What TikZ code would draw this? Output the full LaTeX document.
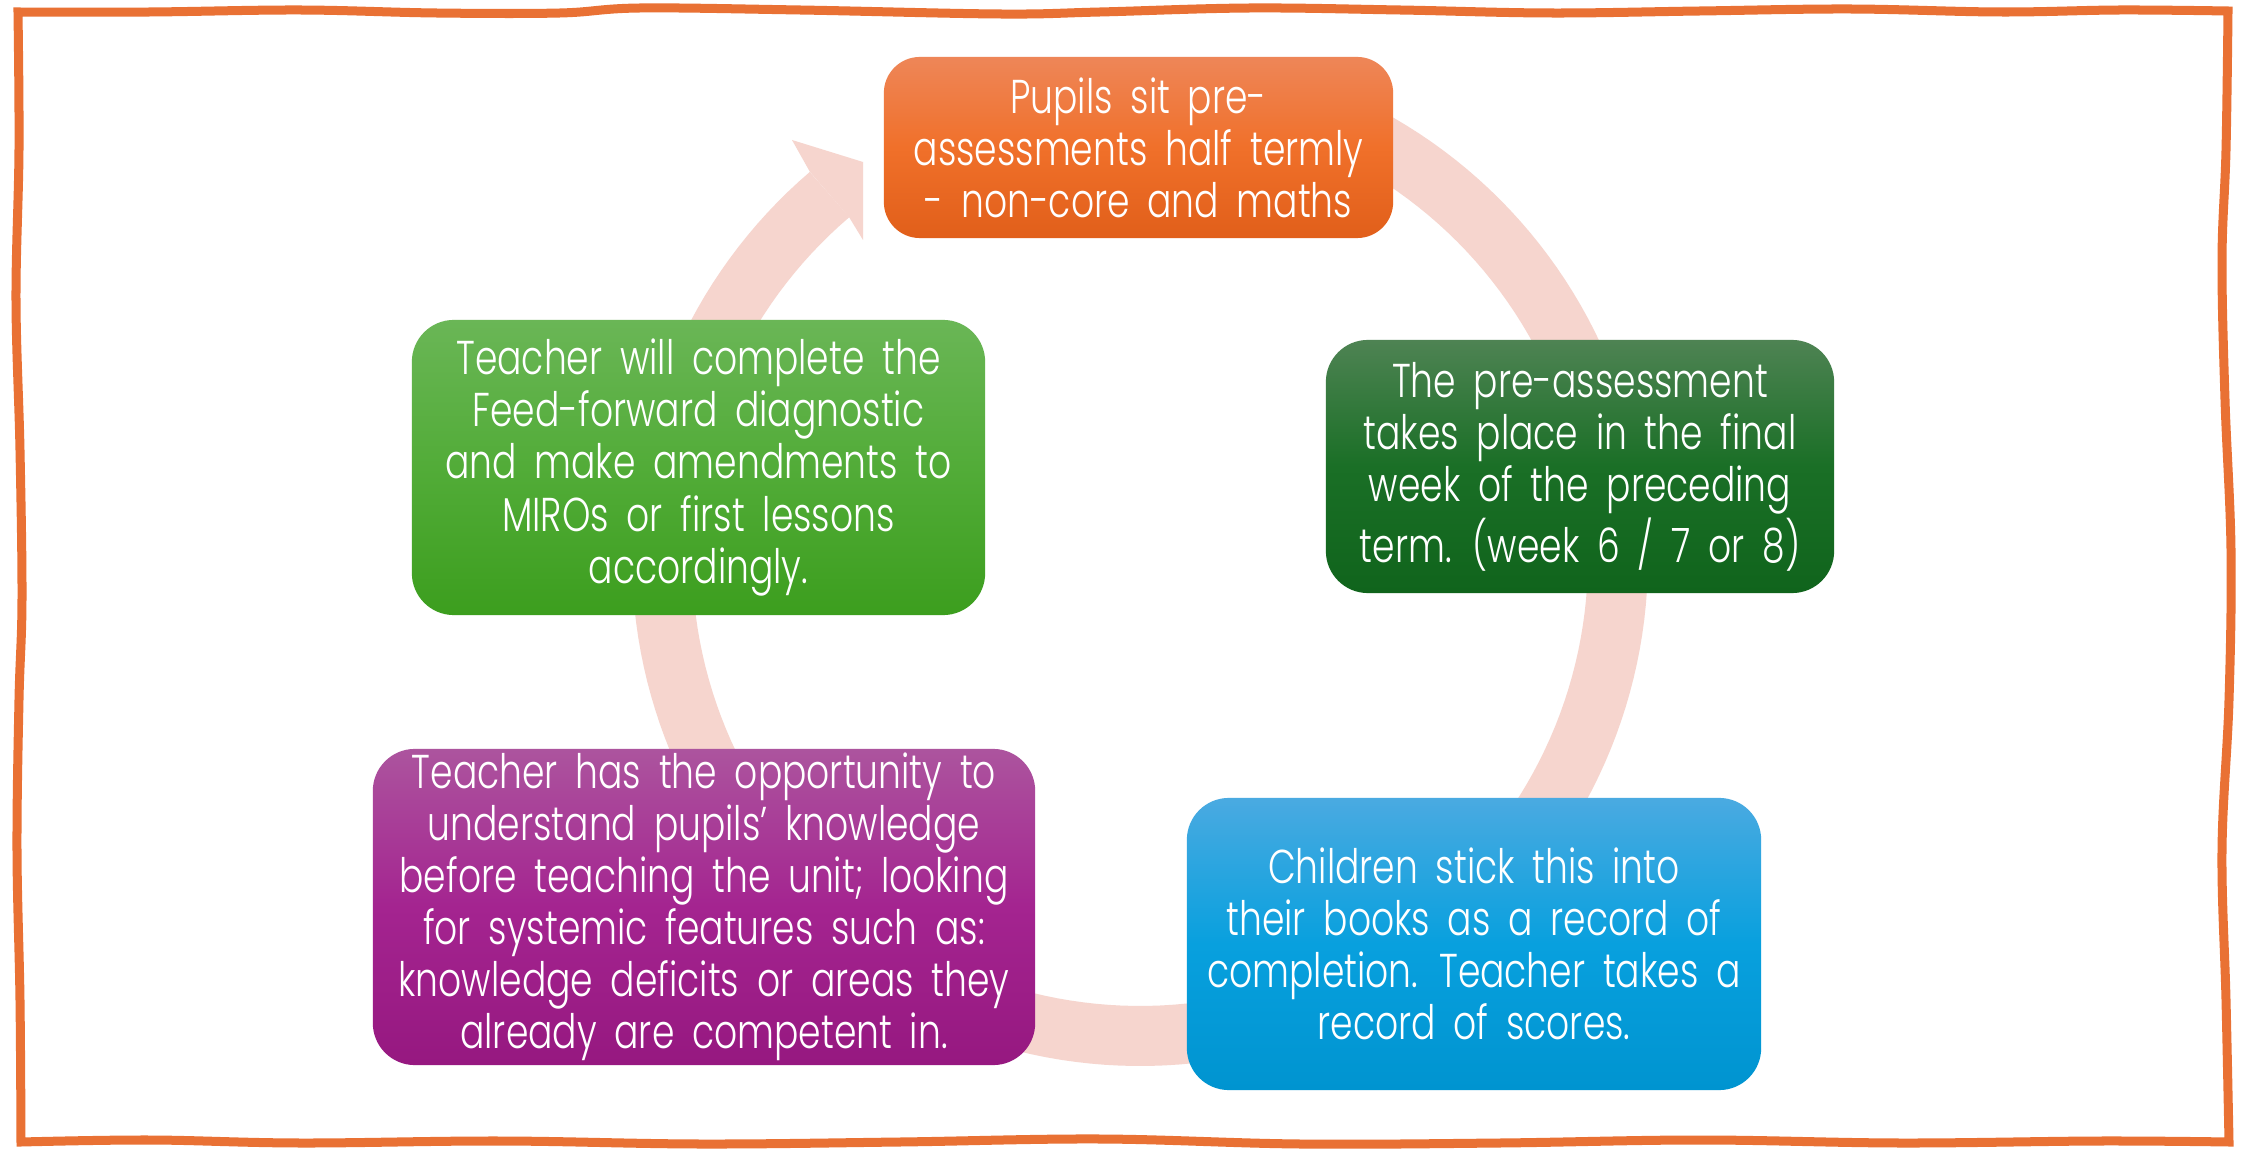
\documentclass[tikz,border=0pt]{standalone}
\usepackage{fontspec}
\setmainfont{Poppins}[UprightFont={* Light}, FakeStretch=0.76, WordSpace=1.8]
\begin{document}
\definecolor{framecol}{RGB}{233,113,52}
\definecolor{cyclepink}{RGB}{246,213,206}
\begin{tikzpicture}[x=0.01cm, y=-0.01cm,
  cyclebox/.style={rounded corners=0.42cm, inner sep=0pt, align=center,
    text=white, font=\fontsize{13.5}{14.8}\selectfont},
  orangebox/.style={cyclebox, top color={rgb,255:red,238;green,134;blue,88},
    bottom color={rgb,255:red,225;green,95;blue,26},
    middle color={rgb,255:red,240;green,112;blue,42}, rounded corners=0.36cm},
  forestbox/.style={cyclebox, top color={rgb,255:red,78;green,131;blue,83},
    bottom color={rgb,255:red,16;green,100;blue,28},
    middle color={rgb,255:red,26;green,111;blue,38}},
  skybox/.style={cyclebox, top color={rgb,255:red,74;green,170;blue,225},
    bottom color={rgb,255:red,0;green,148;blue,208},
    middle color={rgb,255:red,8;green,160;blue,222}},
  plumbox/.style={cyclebox, top color={rgb,255:red,172;green,84;blue,158},
    bottom color={rgb,255:red,150;green,24;blue,128},
    middle color={rgb,255:red,164;green,36;blue,144}},
  leafbox/.style={cyclebox, top color={rgb,255:red,106;green,182;blue,86},
    bottom color={rgb,255:red,60;green,158;blue,30},
    middle color={rgb,255:red,82;green,172;blue,56}},
  cycleband/.style={draw=cyclepink, line width=0.6cm},
  frame/.style={draw=framecol, line width=0.09cm, line join=miter}]

\useasboundingbox (0,0) rectangle (2242,1149);
\fill[white] (0,0) rectangle (2242,1149);

% circular arrow running clockwise behind the boxes
\draw[cycleband] plot[domain=-430:-130.5, samples=180]
  ({1140+478*cos(\x)},{558+478*sin(\x)});
\fill[cyclepink] (792,140) -- (863,162) -- (863,240) -- (849,217)
  -- (810,172) -- cycle;

% the five stages
\node[orangebox, minimum width=5.09cm, minimum height=1.81cm] (pre) at (1138.5,147.5)
  {Pupils sit pre-\\assessments half termly\\- non-core and maths};
\node[forestbox, minimum width=5.08cm, minimum height=2.53cm] (when) at (1580,466.5)
  {The pre-assessment\\takes place in the final\\week of the preceding\\term. (week 6 / 7 or 8)};
\node[skybox, minimum width=5.74cm, minimum height=2.92cm] (record) at (1474,944)
  {Children stick this into\\their books as a record of\\completion. Teacher takes a\\record of scores.};
\node[plumbox, minimum width=6.62cm, minimum height=3.16cm] (understand) at (704,907)
  {Teacher has the opportunity to\\understand pupils’ knowledge\\before teaching the unit; looking\\for systemic features such as:\\knowledge deficits or areas they\\already are competent in.};
\node[leafbox, minimum width=5.73cm, minimum height=2.95cm] (feed) at (698.5,467.5)
  {Teacher will complete the\\Feed-forward diagnostic\\and make amendments to\\MIROs or first lessons\\accordingly.};

% hand-drawn frame
\draw[frame]
  plot[smooth, tension=0.6] coordinates {(18,12) (150,12) (300,10) (436,13) (560,13)
    (640,8) (800,10) (1000,14) (1100,12) (1250,8) (1400,10) (1550,13) (1700,11)
    (1850,9) (2000,12) (2120,10) (2228,11)}
  -- plot[smooth, tension=0.6] coordinates {(2228,11) (2226,150) (2222,260) (2225,400)
    (2231,550) (2229,700) (2222,850) (2226,1000) (2229,1142)}
  -- plot[smooth, tension=0.6] coordinates {(2229,1142) (2100,1141) (1900,1143)
    (1700,1140) (1500,1143) (1300,1144) (1100,1139) (900,1142) (700,1144)
    (500,1141) (300,1143) (150,1140) (21,1142)}
  -- plot[smooth, tension=0.6] coordinates {(21,1142) (20,1000) (17,850) (19,700)
    (22,600) (20,450) (16,300) (19,150) (18,12)}
  -- cycle;
\end{tikzpicture}
\end{document}
